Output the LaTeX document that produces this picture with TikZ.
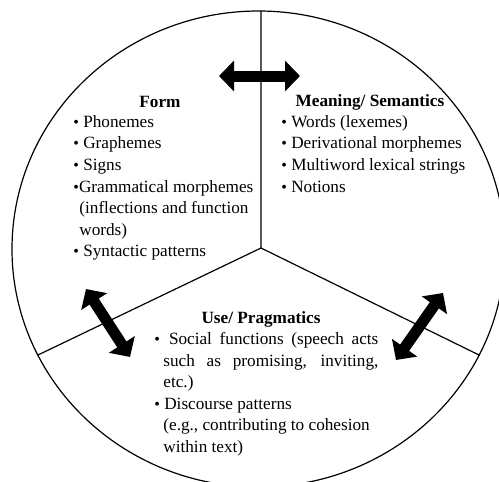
\documentclass[tikz,border=0pt]{standalone}
\usepackage{fontspec}
\setmainfont{Liberation Serif}
\usetikzlibrary{arrows.meta,positioning}
\newcommand{\bul}{{\footnotesize\textbullet}}

\begin{document}
\begin{tikzpicture}[x=0.5pt, y=-0.5pt,
  sect/.style={font=\fontsize{8.6}{10.8}\selectfont\bfseries, inner sep=0pt},
  items/.style={font=\fontsize{8.6}{10.8}\selectfont, align=left, inner sep=0pt, anchor=north west},
  divider/.style={line width=0.6pt},
  dbl/.style={{Triangle[length=7.5pt,width=15pt]}-{Triangle[length=7.5pt,width=15pt]}, line width=5.5pt}
]
\useasboundingbox (0,0) rectangle (499,482);
\clip (0,0) rectangle (499,482);
\draw[divider] (258.5,249) ellipse [x radius=123.25pt, y radius=119pt];
\coordinate (hub) at (261,248);
\coordinate (ctop) at (261,11);
\coordinate (cleft) at (38,355);
\coordinate (cright) at (479,355);
\draw[divider] (ctop) -- (hub) -- (cleft);
\draw[divider] (hub) -- (cright);

\node[sect] (form) at (160,102) {Form};
\node[items] (formlist) at (73,115) {\bul\ Phonemes\\ \bul\ Graphemes\\ \bul\ Signs\\
  \bul Grammatical morphemes\\ \hspace*{3pt}(inflections and function\\ \hspace*{3pt}words)\\
  \bul\ Syntactic patterns};
\node[sect] (meaning) at (370,102) {Meaning/ Semantics};
\node[items] (meaninglist) at (281,115) {\bul\ Words (lexemes)\\ \bul\ Derivational morphemes\\
  \bul\ Multiword lexical strings\\ \bul\ Notions};
\node[sect] (use) at (261,319) {Use/ Pragmatics};
\node[items, text width=112pt, align=justify] (uselist) at (154,332) {%
  \leftskip=4.5pt
  \noindent\hskip-4.5pt\bul\hspace{4.5pt}Social functions (speech acts\linebreak such as promising, inviting,\linebreak etc.)\par
  \noindent\hskip-4.5pt\bul\ Discourse patterns\newline(e.g., contributing to cohesion\newline within text)\par};

\coordinate (fm1) at (219,76);
\coordinate (fm2) at (300,76);
\coordinate (fu1) at (86,289);
\coordinate (fu2) at (130,357);
\coordinate (mu1) at (443,293);
\coordinate (mu2) at (396,360);
\draw[dbl] (fm1) -- (fm2);
\draw[dbl] (fu1) -- (fu2);
\draw[dbl] (mu1) -- (mu2);
\end{tikzpicture}
\end{document}
